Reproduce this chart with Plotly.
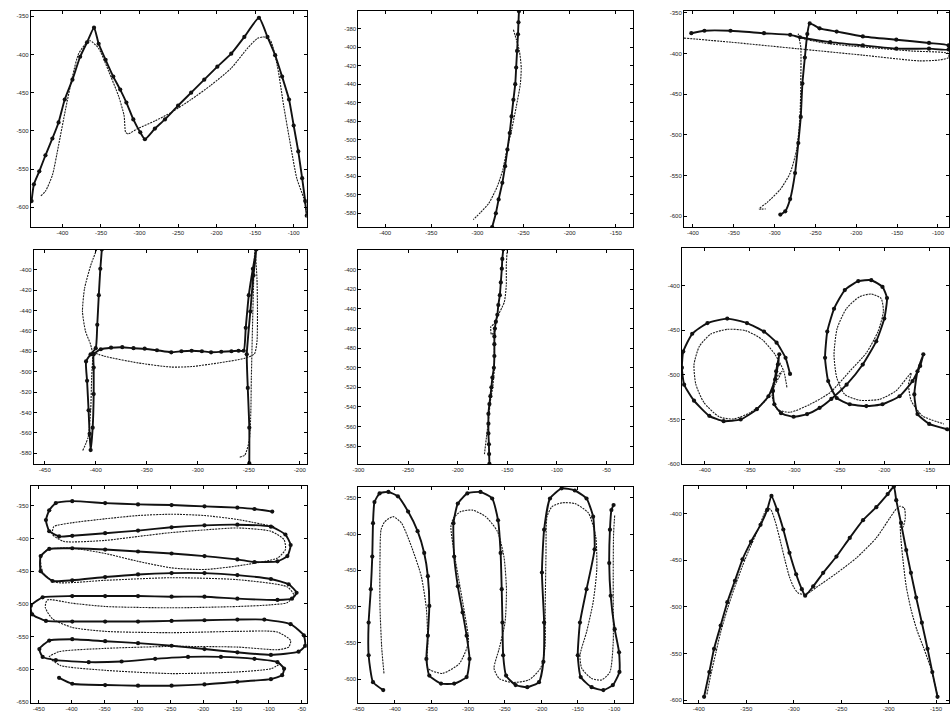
import plotly.graph_objects as go

# ---------------------------------------------------------------
# Pen trajectories (recorded = marked line, reconstructed = dotted)
# ---------------------------------------------------------------

# Panel 1: "M" stroke
p1_rec_x = [-440, -437, -430, -422, -413, -405, -397, -387, -377, -368, -359, -353, -344, -334, -325, -317, -308, -299, -293, -280, -267, -250, -233, -216, -199, -181, -164, -145, -134, -124, -115, -106, -100, -94, -89, -85, -83]
p1_rec_y = [-592, -570, -553, -532, -510, -489, -459, -433, -403, -384, -365, -386, -407, -429, -446, -463, -485, -502, -511, -497, -485, -467, -450, -433, -416, -399, -377, -352, -377, -401, -429, -459, -493, -527, -562, -592, -611]
p1_gen_x = [-428, -422, -413, -405, -396, -387, -379, -368, -364, -353, -340, -327, -320, -318, -315, -302, -280, -259, -233, -207, -181, -160, -147, -139, -130, -121, -113, -104, -96, -87, -83]
p1_gen_y = [-585, -579, -558, -519, -472, -429, -399, -384, -382, -392, -422, -455, -480, -502, -504, -497, -487, -476, -459, -440, -418, -392, -379, -377, -382, -416, -467, -519, -562, -588, -609]

# Panel 2: single down stroke
p2_rec_x = [-255, -255.5, -256, -257, -258, -259, -261, -263, -265, -267.5, -270, -273, -277, -280, -284]
p2_rec_y = [-361, -373, -386, -404, -422, -440, -457, -475, -493, -511, -529, -547, -565, -580, -595]
p2_gen_x = [-261, -258, -254.5, -252.5, -253.5, -258, -263, -268, -272.5, -278.5, -287.5, -296.5, -304.5]
p2_gen_y = [-381, -391, -404, -422, -440, -465, -490, -511, -533, -551, -569, -579, -587]

# Panel 3: "T" stroke
p3_rec_x = [-402, -386, -354, -313, -281, -269, -232, -192, -151, -111, -87, -87, -111, -151, -192, -224, -245, -257, -260, -263, -266, -268, -271, -275, -281, -287, -293]
p3_rec_y = [-375, -372, -372, -375, -377, -380, -386, -390, -394, -394, -395, -390, -387, -383, -379, -373, -369, -363, -376, -405, -437, -478, -510, -547, -579, -594, -598]
p3_gen_x = [-411, -354, -273, -192, -123, -99, -87, -87, -131, -192, -240, -269, -271, -268, -268, -269, -273, -281, -293, -309, -319, -311]
p3_gen_y = [-381, -386, -394, -402, -409, -408, -405, -400, -397, -392, -387, -380, -376, -392, -437, -478, -518, -547, -567, -583, -591, -591]

# Panel 4: "H" stroke
p4_rec_x = [-394, -395.5, -397, -398.5, -400, -405, -409.5, -408.5, -407, -406, -405, -403, -402, -402, -402, -395, -385, -374, -363, -352, -340, -326, -316, -306, -296, -287, -277, -267, -260, -255, -253, -250, -246, -242.5, -245.5, -248.5, -252, -251, -249.5, -249.5]
p4_rec_y = [-380, -399, -425, -454, -477, -483, -490, -509, -538, -561, -577, -555, -522, -496, -483, -478, -476.5, -476, -477, -477.5, -479, -481, -480, -479.5, -480, -481, -480.5, -480, -479.5, -479.5, -457, -425, -399, -380, -405.5, -441, -483, -516, -555, -590]
p4_gen_x = [-399, -405, -411, -413, -410, -405, -403, -404, -405, -407.5, -413, None, -403, -391, -358, -326, -306, -280, -254.5, -244.5, -242, -241.5, -242, -244, -247.5, -248, -249.5, -254, -259]
p4_gen_y = [-380, -396, -418.5, -441, -460.5, -473.5, -483, -506, -538.5, -564.5, -578, None, -481, -485, -491.5, -495.5, -495, -491.5, -487, -482.5, -470.5, -441, -409, -380, -506, -538.5, -567.5, -582, -584]

# Panel 5: single down stroke with small loop
p5_rec_x = [-154, -155, -155.5, -156.5, -157.5, -159, -160, -161.5, -162.5, -163, -163, -163, -163.5, -165, -166, -167, -168, -169, -169, -169, -168.5, -168.3, -168]
p5_rec_y = [-379, -389, -399, -413, -426, -436, -446, -453, -460, -468, -476, -488, -500, -510, -520, -529, -537, -547, -557, -567, -578, -588, -598]
p5_gen_x = [-150, -151, -151, -153, -159, -163, -166.5, -166, -163.5, -162.5, -163, -163, -164.5, -167, -169, -171, -173]
p5_gen_y = [-379, -396, -416, -433, -446, -455, -458, -466, -464, -458, -476.5, -500, -518.5, -534, -554, -571, -588]

# Panel 6: cursive "al"
p6_rec_x = [-305, -310, -320, -334, -353, -375, -397, -414, -424, -425.5, -423, -412, -395, -379, -360, -342, -329, -321.5, -318.5, -317, -320.5, -324, -322.5, -315, -301, -286, -272, -259, -242, -224, -209, -200, -197, -202, -214.5, -229, -244, -256, -263.5, -266, -262.5, -253, -238.5, -220, -202, -183, -168.5, -160, -156.5, -163, -166.5, -163, -150, -130]
p6_rec_y = [-499, -481, -464, -451.5, -442, -437, -442, -454, -474, -492, -511, -529, -546, -552, -550, -538.5, -524, -505, -488.5, -477, -496, -518, -533, -543, -547, -544, -537, -527, -511, -488.5, -462.5, -437, -414, -401.5, -394, -395, -405, -426, -451.5, -481, -507, -526, -533, -535, -533, -524, -507, -490, -477, -496, -522, -544, -555, -561]
p6_gen_x = [-308.5, -312, -321.5, -336, -354.5, -375, -393.5, -406, -412, -410, -401, -384, -367.5, -349, -332.5, -321.5, -314, -323, -325, -319.5, -305, -282.5, -260.5, -238.5, -220, -207, -201, -203.5, -214.5, -227.5, -242, -252.5, -256, -253, -244, -227.5, -205.5, -187, -170, -173, -170, -157.5, -133.5]
p6_gen_y = [-514, -496, -477.5, -460.5, -450.5, -449, -454.5, -468, -488.5, -510.5, -531, -547, -549.5, -542, -529, -510.5, -496, -507, -523.5, -538.5, -542, -533, -520, -496, -475.5, -451.5, -429, -414.5, -409.5, -412.5, -425.5, -448, -477.5, -503, -522, -528.5, -527.5, -518, -498, -510.5, -529, -546, -555]

# Panel 7: horizontal loops
p7_rec_x = [-95, -122, -148, -198, -248, -299, -349, -399, -424, -434, -439, -434, -419,
            -399, -349, -299, -248, -198, -148, -97, -75,
            -67, -72, -87,
            -122, -148, -198, -248, -299, -349, -399, -434,
            -447, -447, -429,
            -399, -349, -299, -248, -198, -148, -97, -70,
            -58, -65, -87,
            -148, -198, -248, -299, -349, -399, -444,
            -462, -460, -439,
            -399, -349, -299, -248, -198, -148, -107, -67,
            -47, -45, -55,
            -97, -148, -198, -248, -299, -349, -399, -434,
            -449, -444, -424,
            -374, -324, -273, -223, -173, -122, -87, -77,
            -80, -97,
            -148, -198, -248, -299, -349, -399, -419]
p7_rec_y = [-359, -355, -353, -351, -349, -348, -346, -343, -346, -357, -372, -389, -397,
            -396, -392, -388, -383, -380, -379, -382, -394,
            -410, -427, -435,
            -436, -432, -427, -423, -420, -417, -415, -416,
            -427, -450, -465,
            -464, -459, -455, -453, -453, -456, -462, -470,
            -483, -492, -494,
            -492, -489, -489, -488, -488, -488, -490,
            -503, -516, -526,
            -527, -527, -527, -526, -525, -524, -524, -531,
            -548, -564, -573,
            -578, -574, -569, -564, -560, -557, -554, -556,
            -569, -581, -586,
            -589, -588, -584, -581, -581, -584, -589, -599,
            -609, -615,
            -619, -623, -625, -625, -624, -622, -613]
p7_gen_x = [-92, -148, -198, -248, -299, -349, -399, -427, -429, -412, -349, -299, -248, -198, -148, -97, -77, -75, -87, -148, -198, -248, -299, -349, -399, -437, -447, -443.5, -424, -349, -248, -148, -72, -62, -72, -97, -148, -248, -349, -399, -437, -440, -429, -399, -349, -248, -148, -87, -67, -70, -87, -148, -248, -349, -419, -434, -417, -349, -248, -148, -97, -82]
p7_gen_y = [-382, -371, -365, -363, -365, -370, -376, -382, -394, -404.5, -403, -397, -391, -387, -384, -389, -402, -417, -430, -442, -447.5, -445, -435, -423, -415, -417, -430, -452.5, -467, -464, -460, -463, -474, -487, -498, -501.5, -504, -506, -504, -499, -494, -505.5, -523, -536, -542, -544, -542, -543, -556, -566, -570, -566, -565, -568, -573, -581, -594, -601.5, -606.5, -604, -599, -591]

# Panel 8: vertical waves
p8_rec_x = [-416, -430, -436, -436, -433, -431, -430, -428, -421, -409, -396, -382, -369, -360, -355, -353, -355, -357, -353, -337, -319, -302, -298, -302, -307.5, -314, -319, -320, -314, -301, -283, -267, -259, -255.5, -254, -253, -252, -248, -235, -219, -203, -197, -196, -199, -196, -188, -172, -154, -138, -129, -127, -138, -147, -150, -146, -131, -115, -102, -93, -93.5, -99.5, -105, -107, -106, -104, -101]
p8_rec_y = [-615, -604, -567, -522, -476, -431, -385, -356, -344, -342, -348, -369, -396, -426, -458, -499, -540, -572, -595, -606, -606, -597, -572, -540, -508, -472, -431, -385, -358, -344, -342, -351, -381, -426, -476, -522, -567, -595, -608, -611, -604, -576, -522, -453, -394, -351, -337, -340, -351, -376, -421, -476, -522, -567, -597, -611, -615, -608, -590, -563, -531, -485, -440, -394, -367, -360]
p8_gen_x = [-415, -418, -420.5, -420.5, -419, -414, -402.5, -391, -377.5, -364, -357, -355, -355, -335, -312, -299.5, -305, -312, -319, -323.5, -320, -310, -294, -276, -260, -251, -247.5, -249.5, -257.5, -264.5, -257.5, -239.5, -217, -201, -195, -194.5, -193.5, -192, -185, -172, -154, -135.5, -125.5, -124, -129, -138, -147, -144.5, -131, -117.5, -106, -101.5, -101.5, -101.5, -101, -99.5]
p8_gen_y = [-592, -558, -499, -440, -394, -383, -376, -385, -417, -458, -503, -549, -585, -592, -578.5, -549, -508, -467, -426, -390, -378, -369, -367, -376, -396, -431, -476, -522, -558, -585, -599, -604.5, -601, -585, -558, -499, -431, -376, -362, -357, -358, -371, -403, -449, -494, -535, -567, -585, -599, -601, -590, -549, -499, -444, -399, -374]

# Panel 9: second "M" stroke
p9_rec_x = [-394.5, -389, -384, -377, -370, -362, -354, -345, -335, -328, -323.5, -317.5, -311, -304.5, -297.5, -291.5, -288, -279.5, -269, -255, -241, -227, -213, -201, -194.5, -192, -187, -181.5, -176.5, -171, -165, -159, -154, -148.5]
p9_rec_y = [-596.5, -570, -545, -520, -495, -472, -449, -430, -412, -396, -381, -396, -417, -442, -465, -481, -488, -478, -463.5, -446, -426, -407, -393, -379, -371, -385.5, -410, -439, -463.5, -490, -517, -545, -570, -596.5]
p9_gen_x = [-391.5, -387.5, -382, -377, -370, -363, -354, -345.5, -337, -331.5, -328, -324, -319.5, -314, -309, -304.5, -300, -295, -290, -283, -276, -255, -234, -213, -199, -192, -188, -183.5, -182.5, -185, -187.5, -187, -185, -181.5, -176.5, -170.5, -163.5, -155.5, -151, -148.5]
p9_gen_y = [-594, -573, -549, -527, -502.5, -481, -456, -435, -415.5, -401, -394, -396, -408.5, -430, -451, -468, -479, -485.5, -486.5, -484, -479, -464, -447.5, -426, -405, -395, -392, -394, -405, -414.5, -412, -428, -449, -478, -502.5, -524, -543, -566, -584, -595.5]

# Tick values per panel
p1_xticks = [-400, -350, -300, -250, -200, -150, -100]
p1_yticks = [-600, -550, -500, -450, -400, -350]
p2_xticks = [-400, -350, -300, -250, -200, -150]
p2_yticks = [-580, -560, -540, -520, -500, -480, -460, -440, -420, -400, -380]
p3_xticks = [-400, -350, -300, -250, -200, -150, -100]
p3_yticks = [-600, -550, -500, -450, -400, -350]
p4_xticks = [-450, -400, -350, -300, -250, -200]
p4_yticks = [-580, -560, -540, -520, -500, -480, -460, -440, -420, -400]
p5_xticks = [-300, -250, -200, -150, -100, -50]
p5_yticks = [-580, -560, -540, -520, -500, -480, -460, -440, -420, -400]
p6_xticks = [-400, -350, -300, -250, -200, -150]
p6_yticks = [-600, -550, -500, -450, -400]
p7_xticks = [-450, -400, -350, -300, -250, -200, -150, -100, -50]
p7_yticks = [-650, -600, -550, -500, -450, -400, -350]
p8_xticks = [-450, -400, -350, -300, -250, -200, -150, -100]
p8_yticks = [-600, -550, -500, -450, -400, -350]
p9_xticks = [-400, -350, -300, -250, -200, -150]
p9_yticks = [-600, -550, -500, -450, -400]

W, H = 950, 712

# panel frames in pixels (left, right, top, bottom) and axis ranges
panels = [
    dict(rec=(p1_rec_x, p1_rec_y), gen=(p1_gen_x, p1_gen_y), xt=p1_xticks, yt=p1_yticks,
         box=(25, 303, 10, 228), xr=(-441, -83), yr=(-626, -343)),
    dict(rec=(p2_rec_x, p2_rec_y), gen=(p2_gen_x, p2_gen_y), xt=p2_xticks, yt=p2_yticks,
         box=(355, 632, 10, 228), xr=(-429, -131), yr=(-595, -360.6)),
    dict(rec=(p3_rec_x, p3_rec_y), gen=(p3_gen_x, p3_gen_y), xt=p3_xticks, yt=p3_yticks,
         box=(683, 950, 10, 228), xr=(-411, -86.5), yr=(-613.4, -347.6)),
    dict(rec=(p4_rec_x, p4_rec_y), gen=(p4_gen_x, p4_gen_y), xt=p4_xticks, yt=p4_yticks,
         box=(28, 303, 251, 467), xr=(-460.7, -193.2), yr=(-590.7, -380.5)),
    dict(rec=(p5_rec_x, p5_rec_y), gen=(p5_gen_x, p5_gen_y), xt=p5_xticks, yt=p5_yticks,
         box=(355, 632, 251, 467), xr=(-300, -23), yr=(-598.2, -379.8)),
    dict(rec=(p6_rec_x, p6_rec_y), gen=(p6_gen_x, p6_gen_y), xt=p6_xticks, yt=p6_yticks,
         box=(681, 950, 249, 467), xr=(-425.4, -127.9), yr=(-600, -357.8)),
    dict(rec=(p7_rec_x, p7_rec_y), gen=(p7_gen_x, p7_gen_y), xt=p7_xticks, yt=p7_yticks,
         box=(25, 303, 489, 708), xr=(-462, -42.5), yr=(-651.5, -319.7)),
    dict(rec=(p8_rec_x, p8_rec_y), gen=(p8_gen_x, p8_gen_y), xt=p8_xticks, yt=p8_yticks,
         box=(355, 632, 490, 708), xr=(-450, -74), yr=(-632.8, -335)),
    dict(rec=(p9_rec_x, p9_rec_y), gen=(p9_gen_x, p9_gen_y), xt=p9_xticks, yt=p9_yticks,
         box=(683, 950, 489, 708), xr=(-415.7, -136.4), yr=(-603.2, -370.2)),
]

fig = go.Figure()
tick_font = dict(family="Liberation Sans, Arial, sans-serif", size=6, color="#222")

for i, p in enumerate(panels, start=1):
    suffix = "" if i == 1 else str(i)
    xa, ya = "x" + suffix, "y" + suffix
    gx, gy = p["gen"]
    rx, ry = p["rec"]
    # reconstructed trajectory: fine dotted line
    fig.add_trace(go.Scatter(
        x=gx, y=gy, xaxis=xa, yaxis=ya, mode="lines",
        line=dict(color="#1a1a1a", width=1.1, dash="2px,1px", shape="spline", smoothing=0.6),
        connectgaps=False, showlegend=False, hoverinfo="skip"))
    # recorded trajectory: heavy line with sample markers
    fig.add_trace(go.Scatter(
        x=rx, y=ry, xaxis=xa, yaxis=ya, mode="lines+markers",
        line=dict(color="#111", width=1.9, shape="spline", smoothing=0.5),
        marker=dict(symbol="circle", size=4.2, color="#111"),
        showlegend=False, hoverinfo="skip"))

    left, right, top, bottom = p["box"]
    axis_style = dict(showline=True, linecolor="black", linewidth=1, mirror="allticks",
                      ticks="inside", ticklen=3, tickcolor="black", tickwidth=1,
                      showgrid=False, zeroline=False, tickfont=tick_font)
    fig.layout["xaxis" + suffix] = dict(
        domain=[left / W, min(right / W, 1.0)], range=list(p["xr"]), anchor=ya,
        tickvals=p["xt"], ticktext=[str(v) for v in p["xt"]], **axis_style)
    fig.layout["yaxis" + suffix] = dict(
        domain=[1 - bottom / H, 1 - top / H], range=list(p["yr"]), anchor=xa,
        tickvals=p["yt"], ticktext=[str(v) for v in p["yt"]], **axis_style)

fig.update_layout(width=W, height=H, margin=dict(l=0, r=0, t=0, b=0),
                  paper_bgcolor="white", plot_bgcolor="white")
fig.write_html("out.html")
